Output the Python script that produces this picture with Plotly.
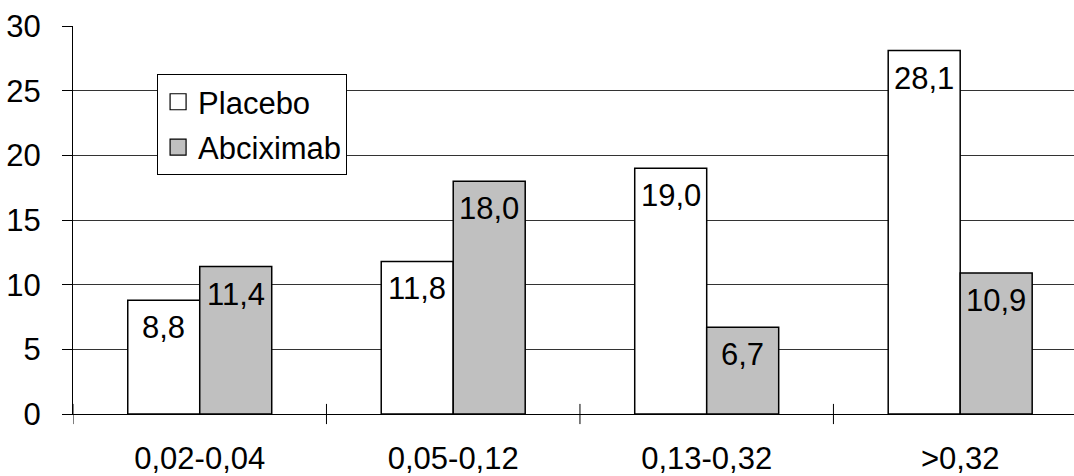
import plotly.graph_objects as go

categories = ["0,02-0,04", "0,05-0,12", "0,13-0,32", ">0,32"]
placebo = [8.8, 11.8, 19.0, 28.1]
abciximab = [11.4, 18.0, 6.7, 10.9]
y_ticks = [0, 5, 10, 15, 20, 25, 30]

FONT = "Liberation Sans, Arial, sans-serif"
FS = 31
BARGAP = 0.432
xpos = list(range(len(categories)))
half = (1 - BARGAP) / 4  # half of a single bar's width in category units

def fmt(v):
    return f"{v:.1f}".replace(".", ",")

fig = go.Figure()
fig.add_trace(go.Bar(
    x=xpos, y=placebo, name="Placebo", showlegend=False,
    marker=dict(color="white", line=dict(color="black", width=1.5)),
))
fig.add_trace(go.Bar(
    x=xpos, y=abciximab, name="Abciximab", showlegend=False,
    marker=dict(color="#c0c0c0", line=dict(color="black", width=1.5)),
))
# legend entries
fig.add_trace(go.Scatter(x=[None], y=[None], mode="markers", name="Placebo",
                         legendgroup="a",
                         marker=dict(symbol="square", size=19, color="white",
                                     line=dict(color="black", width=1.2))))
fig.add_trace(go.Scatter(x=[None], y=[None], mode="markers", name="Abciximab",
                         legendgroup="b",
                         marker=dict(symbol="square", size=19, color="#c0c0c0",
                                     line=dict(color="black", width=1.2))))

# value labels inside top of bars
for i, (p, a) in enumerate(zip(placebo, abciximab)):
    for xv, v in ((i - half, p), (i + half, a)):
        fig.add_annotation(x=xv, y=v, xref="x", yref="y", text=fmt(v),
                           showarrow=False, yanchor="top", xanchor="center",
                           yshift=-8,
                           font=dict(family=FONT, size=FS, color="black"))

# crossing category-boundary tick marks
for i in xpos:
    fig.add_shape(type="line", xref="x", yref="paper", x0=i - 0.5, x1=i - 0.5,
                  y0=-0.026, y1=0.026, line=dict(color="black", width=1))

fig.update_layout(
    width=1074, height=476,
    margin=dict(l=73, r=0, t=26, b=62, autoexpand=False),
    paper_bgcolor="white", plot_bgcolor="white",
    barmode="group", bargap=BARGAP, bargroupgap=0,
    font=dict(family=FONT, size=FS, color="black"),
    showlegend=True,
    legend=dict(x=0.084, y=0.876, xanchor="left", yanchor="top",
                bgcolor="white", bordercolor="black", borderwidth=1,
                font=dict(family=FONT, size=FS, color="black"),
                tracegroupgap=2, traceorder="grouped"),
    xaxis=dict(range=[-0.5, 3.449], tickmode="array", tickvals=xpos, ticktext=categories,
               ticks="", showgrid=False, zeroline=False, showline=True,
               linecolor="black", linewidth=1, ticklabelstandoff=17, automargin=False,
               tickfont=dict(family=FONT, size=FS, color="black")),
    yaxis=dict(range=[0, 30], tickmode="array", tickvals=y_ticks,
               ticks="outside", ticklen=10, tickcolor="black", tickwidth=1,
               showgrid=True, gridcolor="#333333", gridwidth=1,
               zeroline=False, showline=True, linecolor="black", linewidth=1,
               ticklabelstandoff=15, automargin=False,
               tickfont=dict(family=FONT, size=FS, color="black")),
)

fig.write_html("out.html")
